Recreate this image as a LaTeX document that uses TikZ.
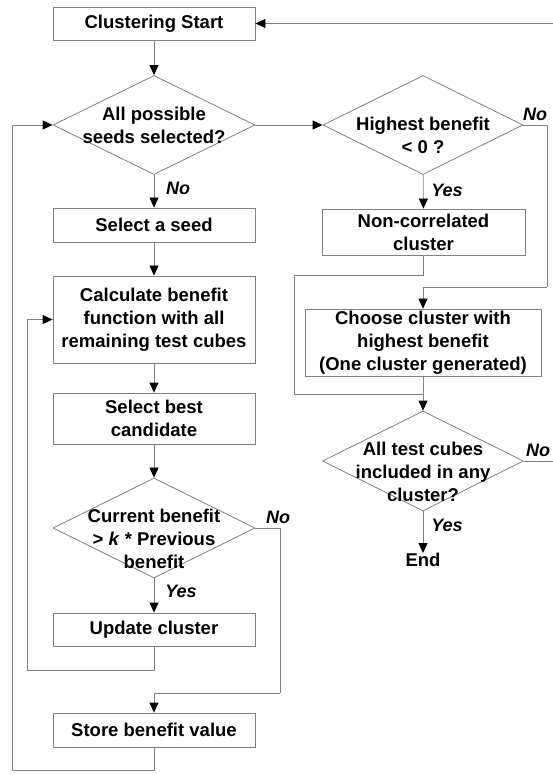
\documentclass[tikz,border=0pt]{standalone}
\usepackage{fontspec}
\setmainfont{Liberation Sans}
\usetikzlibrary{arrows.meta, shapes.geometric, positioning}

\tikzset{
  box/.style={draw=gray, line width=0.8pt, minimum width=202pt, inner sep=0pt, align=center},
  dia/.style={diamond, draw=gray, line width=0.8pt, inner sep=0pt},
  dtext/.style={align=center, inner sep=0pt},
  yn/.style={font=\fontsize{18}{22}\selectfont\bfseries\itshape, inner sep=0pt},
  arr/.style={draw=gray, line width=0.8pt, -{Triangle[length=10pt,width=9pt,color=black]}},
  ln/.style={draw=gray, line width=0.8pt}
}

\begin{document}
\begin{tikzpicture}[x=1pt, y=-1pt, font=\fontsize{18.5}{23}\selectfont\bfseries]
           \useasboundingbox (0,0) rectangle (553,775);
           % left column
           \node[box, minimum height=33pt] at (154,23.5) (start) {Clustering Start};
           \node[dia, minimum width=202pt, minimum height=99pt] at (154,125) (d1) {};
           \node[dtext] at (154,125) (t1) {All possible\\seeds selected?};
           \node[box, minimum height=34pt] at (154,225) (seed) {Select a seed};
           \node[box, minimum height=87pt] at (154,319.5) (calc) {Calculate benefit\\function with all\\remaining test cubes};
           \node[box, minimum height=51pt] at (154,418.5) (best) {Select best\\candidate};
           \node[dia, minimum width=202pt, minimum height=100pt] at (154,528) (d4) {};
           \node[dtext] at (154,539) (t4) {Current benefit\\> \textit{k} * Previous\\benefit};
           \node[box, minimum height=33pt] at (154,629.5) (upd) {Update cluster};
           \node[box, minimum height=34pt] at (154,730) (store) {Store benefit value};

           % right column
           \node[dia, minimum width=200pt, minimum height=99pt] at (423,125) (d2) {};
           \node[dtext] at (423,135) (t2) {Highest benefit\\< 0 ?};
           \node[box, minimum width=203pt, minimum height=46pt] at (423.5,232) (noncor) {Non-correlated\\cluster};
           \node[box, minimum width=236pt, minimum height=67pt] at (423,342.5) (choose) {Choose cluster with\\highest benefit\\(One cluster generated)};
           \node[dia, minimum width=201pt, minimum height=100pt] at (423,461) (d3) {};
           \node[dtext] at (423,472) (t3) {All test cubes\\included in any\\cluster?};
           \node[inner sep=0pt] at (423,560) (end) {End};

           % labels
           \node[yn] at (178,188) (no1) {No};
           \node[yn] at (535,114) (no2) {No};
           \node[yn] at (447,190) (yes2) {Yes};
           \node[yn] at (538,450) (no3) {No};
           \node[yn] at (447,525) (yes3) {Yes};
           \node[yn] at (278,517) (no4) {No};
           \node[yn] at (181,591) (yes4) {Yes};

           \coordinate (e1) at (553,23.5);
           \coordinate (e2) at (553,461);
           \coordinate (c2) at (547,287);
           \coordinate (c3) at (294,275);
           \coordinate (c4) at (423,394);
           \coordinate (c5) at (27,670);
           \coordinate (c6) at (280,693);
           \coordinate (c7) at (12,770);

           \draw[arr] (e1) -- (start);
           \draw[arr] (start) -- (d1);
           \draw[arr] (d1) -- (seed);
           \draw[arr] (seed) -- (calc);
           \draw[arr] (calc) -- (best);
           \draw[arr] (best) -- (d4);
           \draw[arr] (d4) -- (upd);
           \draw[ln] (upd.south) |- (c5);
           \draw[arr] (c5) |- (calc.west);
           \draw[ln] (d4.east) -| (c6);
           \draw[arr] (c6) -| (store.north);
           \draw[ln] (store.south) |- (c7);
           \draw[arr] (c7) |- (d1.west);

           \draw[arr] (d1.east) -- (d2.west);
           \draw[arr] (d2) -- (noncor);
           \draw[ln] (d2.east) -| (c2);
           \draw[arr] (c2) -| (choose.north);
           \draw[ln] (noncor.south) |- (c3);
           \draw[ln] (c3) |- (c4);
           \draw[arr] (choose) -- (d3);
           \draw[ln] (d3.east) -- (e2);
           \draw[arr] (d3) -- (end);
        \end{tikzpicture}
\end{document}
